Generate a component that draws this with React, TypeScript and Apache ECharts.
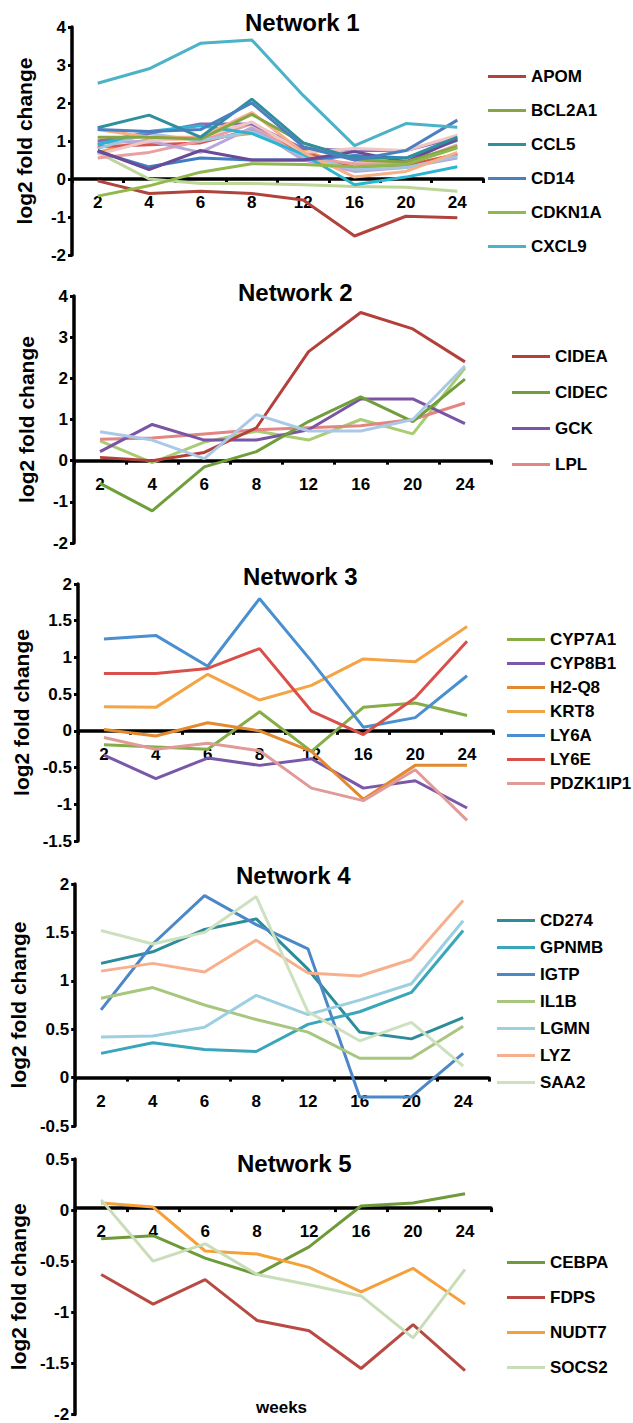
import React, { useEffect, useRef } from "react";
import * as echarts from "echarts";

const weeks = ["2", "4", "6", "8", "12", "16", "20", "24"];

// Network 1 (legend shows six genes; further lines are drawn but not listed)
const n1Legend = ["APOM", "BCL2A1", "CCL5", "CD14", "CDKN1A", "CXCL9"];
const APOM = [-0.05, -0.38, -0.32, -0.38, -0.55, -1.5, -0.98, -1.02];
const BCL2A1 = [1.1, 1.1, 1.05, 1.7, 0.95, 0.5, 0.45, 0.85];
const CCL5 = [1.35, 1.68, 1.1, 2.1, 0.95, 0.55, 0.55, 1.1];
const CD14 = [1.3, 1.25, 1.3, 2.0, 0.85, 0.5, 0.75, 1.55];
const CDKN1A = [-0.45, -0.18, 0.18, 0.4, 0.38, 0.32, 0.38, 0.82];
const CXCL9 = [2.52, 2.9, 3.57, 3.66, 2.2, 0.88, 1.46, 1.36];
const n1Extra1 = [0.7, 0.0, -0.12, -0.12, -0.15, -0.2, -0.22, -0.32];
const n1Extra2 = [0.75, 0.25, 0.75, 0.5, 0.5, 0.72, 0.45, 1.05];
const n1Extra3 = [0.72, 0.32, 0.55, 0.5, 0.5, 0.62, 0.55, 1.02];
const n1Extra4 = [0.7, 1.05, 1.05, 1.2, 0.75, 0.3, 0.35, 0.65];
const n1Extra5 = [1.3, 1.1, 1.1, 1.75, 0.7, 0.05, 0.2, 0.7];
const n1Extra6 = [0.85, 0.9, 0.95, 1.3, 0.7, 0.3, 0.35, 0.65];
const n1Extra7 = [0.55, 0.7, 1.0, 1.45, 0.55, 0.4, 0.4, 0.9];
const n1Extra8 = [0.95, 1.0, 0.7, 1.35, 0.5, 0.2, 0.3, 0.55];
const n1Extra9 = [0.8, 1.2, 1.0, 1.25, 0.6, 0.25, 0.3, 0.6];
const n1Extra10 = [1.0, 1.2, 1.45, 1.45, 0.8, 0.75, 0.75, 1.1];
const n1Extra11 = [0.65, 1.0, 1.1, 1.5, 0.7, 0.8, 0.75, 1.15];
const n1Extra12 = [0.9, 1.25, 1.4, 1.2, 0.65, -0.15, 0.05, 0.32];

// Network 2
const n2Legend = ["CIDEA", "CIDEC", "GCK", "LPL"];
const CIDEA = [0.08, 0.0, 0.2, 0.8, 2.65, 3.6, 3.2, 2.4];
const CIDEC = [-0.55, -1.22, -0.15, 0.22, 0.95, 1.55, 0.95, 1.98];
const GCK = [0.22, 0.88, 0.5, 0.5, 0.75, 1.5, 1.5, 0.9];
const LPL = [0.52, 0.55, 0.65, 0.75, 0.8, 0.85, 1.0, 1.4];
const n2Extra1 = [0.48, -0.05, 0.45, 0.72, 0.5, 1.0, 0.65, 2.25];
const n2Extra2 = [0.7, 0.5, 0.05, 1.12, 0.72, 0.72, 1.0, 2.3];

// Network 3
const n3Legend = ["CYP7A1", "CYP8B1", "H2-Q8", "KRT8", "LY6A", "LY6E", "PDZK1IP1"];
const CYP7A1 = [-0.19, -0.22, -0.25, 0.26, -0.28, 0.32, 0.38, 0.21];
const CYP8B1 = [-0.33, -0.65, -0.37, -0.47, -0.38, -0.78, -0.68, -1.05];
const H2Q8 = [0.02, -0.07, 0.11, 0.0, -0.28, -0.93, -0.47, -0.47];
const KRT8 = [0.33, 0.32, 0.77, 0.42, 0.62, 0.98, 0.94, 1.42];
const LY6A = [1.25, 1.3, 0.88, 1.8, 0.95, 0.05, 0.18, 0.75];
const LY6E = [0.78, 0.78, 0.85, 1.12, 0.27, -0.05, 0.45, 1.22];
const PDZK1IP1 = [-0.09, -0.25, -0.17, -0.27, -0.78, -0.95, -0.53, -1.22];

// Network 4
const n4Legend = ["CD274", "GPNMB", "IGTP", "IL1B", "LGMN", "LYZ", "SAA2"];
const CD274 = [1.18, 1.3, 1.53, 1.64, 1.12, 0.47, 0.4, 0.62];
const GPNMB = [0.25, 0.36, 0.29, 0.27, 0.55, 0.68, 0.88, 1.52];
const IGTP = [0.7, 1.38, 1.88, 1.58, 1.33, -0.2, -0.2, 0.25];
const IL1B = [0.82, 0.93, 0.75, 0.6, 0.47, 0.2, 0.2, 0.53];
const LGMN = [0.42, 0.43, 0.52, 0.85, 0.65, 0.8, 0.97, 1.62];
const LYZ = [1.1, 1.18, 1.09, 1.42, 1.08, 1.05, 1.22, 1.83];
const SAA2 = [1.52, 1.38, 1.5, 1.87, 0.68, 0.38, 0.57, 0.12];

// Network 5
const n5Legend = ["CEBPA", "FDPS", "NUDT7", "SOCS2"];
const CEBPA = [-0.28, -0.25, -0.47, -0.63, -0.36, 0.04, 0.07, 0.16];
const FDPS = [-0.63, -0.92, -0.68, -1.08, -1.18, -1.55, -1.12, -1.57];
const NUDT7 = [0.07, 0.03, -0.4, -0.43, -0.56, -0.8, -0.57, -0.92];
const SOCS2 = [0.1, -0.5, -0.33, -0.63, -0.73, -0.84, -1.25, -0.58];

type S = { name: string; data: number[]; color: string };

const panelSeries: S[][] = [
  [
    { name: "n1-x1", data: n1Extra1, color: "#bdd79b" },
    { name: "n1-x4", data: n1Extra4, color: "#f0a04a" },
    { name: "n1-x6", data: n1Extra6, color: "#d9534f" },
    { name: "n1-x7", data: n1Extra7, color: "#e8a0a0" },
    { name: "n1-x8", data: n1Extra8, color: "#b8a8d8" },
    { name: "n1-x9", data: n1Extra9, color: "#a2c6e2" },
    { name: "n1-x10", data: n1Extra10, color: "#8a6bb8" },
    { name: "n1-x11", data: n1Extra11, color: "#f0c6c4" },
    { name: "n1-x12", data: n1Extra12, color: "#2bb5d1" },
    { name: "n1-x5", data: n1Extra5, color: "#f6b088" },
    { name: "n1-x3", data: n1Extra3, color: "#3f7ec5" },
    { name: "n1-x2", data: n1Extra2, color: "#6a4b98" },
    { name: "APOM", data: APOM, color: "#b0443c" },
    { name: "BCL2A1", data: BCL2A1, color: "#86a544" },
    { name: "CCL5", data: CCL5, color: "#2f8f9d" },
    { name: "CD14", data: CD14, color: "#4b7fc0" },
    { name: "CDKN1A", data: CDKN1A, color: "#90b84c" },
    { name: "CXCL9", data: CXCL9, color: "#4bb2c8" },
  ],
  [
    { name: "n2-x1", data: n2Extra1, color: "#a8cb73" },
    { name: "LPL", data: LPL, color: "#e38582" },
    { name: "GCK", data: GCK, color: "#7a55a6" },
    { name: "CIDEC", data: CIDEC, color: "#6f9e3a" },
    { name: "CIDEA", data: CIDEA, color: "#b3403a" },
    { name: "n2-x2", data: n2Extra2, color: "#abc9e6" },
  ],
  [
    { name: "CYP7A1", data: CYP7A1, color: "#86ad48" },
    { name: "CYP8B1", data: CYP8B1, color: "#7a58a8" },
    { name: "H2-Q8", data: H2Q8, color: "#e38a30" },
    { name: "KRT8", data: KRT8, color: "#f3a444" },
    { name: "LY6A", data: LY6A, color: "#4a8fd0" },
    { name: "LY6E", data: LY6E, color: "#d9504a" },
    { name: "PDZK1IP1", data: PDZK1IP1, color: "#e09a98" },
  ],
  [
    { name: "CD274", data: CD274, color: "#2c8c9a" },
    { name: "GPNMB", data: GPNMB, color: "#3aa6b9" },
    { name: "IGTP", data: IGTP, color: "#4c87c8" },
    { name: "IL1B", data: IL1B, color: "#a8c67e" },
    { name: "LGMN", data: LGMN, color: "#9ccfe0" },
    { name: "LYZ", data: LYZ, color: "#f7b08e" },
    { name: "SAA2", data: SAA2, color: "#cde0c0" },
  ],
  [
    { name: "CEBPA", data: CEBPA, color: "#6f9a3a" },
    { name: "FDPS", data: FDPS, color: "#b84a44" },
    { name: "NUDT7", data: NUDT7, color: "#f5a03a" },
    { name: "SOCS2", data: SOCS2, color: "#c8ddb8" },
  ],
];

const legends = [n1Legend, n2Legend, n3Legend, n4Legend, n5Legend];
const titles = ["Network 1", "Network 2", "Network 3", "Network 4", "Network 5"];
const yMin = [-2, -2, -1.5, -0.5, -2];
const yMax = [4, 4, 2, 2, 0.5];
const yInterval = [1, 1, 0.5, 0.5, 0.5];

const layout = [
  { grid: { left: 72, top: 27, width: 411, height: 228 }, title: { left: 245, top: 10 }, legend: { left: 488, top: 68, itemGap: 17 } },
  { grid: { left: 74, top: 296, width: 417, height: 247 }, title: { left: 238, top: 280 }, legend: { left: 512, top: 348, itemGap: 19 } },
  { grid: { left: 78, top: 584, width: 415, height: 257 }, title: { left: 243, top: 564 }, legend: { left: 507, top: 631, itemGap: 7 } },
  { grid: { left: 71, top: 884, width: 418, height: 242 }, title: { left: 236, top: 863 }, legend: { left: 497, top: 912, itemGap: 10 } },
  { grid: { left: 74, top: 1159, width: 417, height: 258 }, title: { left: 237, top: 1151 }, legend: { left: 507, top: 1254, itemGap: 18 } },
];

const FONT = "'Liberation Sans', Arial, sans-serif";

export default function App() {
  const ref = useRef<HTMLDivElement>(null);
  useEffect(() => {
    if (!ref.current) return;
    const chart = echarts.init(ref.current, undefined, { renderer: "svg" });
    const bold = { fontWeight: "bold" as const, color: "#000", fontFamily: FONT };
    const option: any = {
      animation: false,
      backgroundColor: "#fff",
      textStyle: { fontFamily: FONT },
      title: [
        ...titles.map((t, i) => ({
          text: t,
          left: layout[i].title.left,
          top: layout[i].title.top,
          padding: 0,
          textStyle: { ...bold, fontSize: 24 },
        })),
        { text: "weeks", left: 256, top: 1399, padding: 0, textStyle: { ...bold, fontSize: 17 } },
      ],
      grid: layout.map((l) => ({ ...l.grid, containLabel: false })),
      legend: legends.map((names, i) => ({
        data: names,
        orient: "vertical",
        left: layout[i].legend.left,
        top: layout[i].legend.top,
        itemGap: layout[i].legend.itemGap,
        itemWidth: 38,
        itemHeight: 3,
        icon: "rect",
        padding: 0,
        selectedMode: false,
        textStyle: { ...bold, fontSize: 17 },
      })),
      xAxis: layout.map((l, i) => ({
        type: "category",
        gridIndex: i,
        position: "bottom",
        // place the axis on the zero line of the value axis
        offset: -(l.grid.height * (0 - yMin[i])) / (yMax[i] - yMin[i]),
        data: weeks,
        boundaryGap: true,
        axisLine: { show: true, onZero: false, lineStyle: { color: "#000", width: 3.5 } },
        axisTick: { show: true, length: 4, lineStyle: { color: "#000", width: 3 } },
        axisLabel: { margin: 15, fontSize: 17, ...bold },
        splitLine: { show: false },
        z: 1,
      })),
      yAxis: layout.map((_, i) => ({
        type: "value",
        gridIndex: i,
        min: yMin[i],
        max: yMax[i],
        interval: yInterval[i],
        name: "log2 fold change",
        nameLocation: "middle",
        nameGap: 37,
        nameRotate: 90,
        nameTextStyle: { ...bold, fontSize: 21 },
        axisLine: { show: true, lineStyle: { color: "#000", width: 3.5 } },
        axisTick: { show: true, length: 4, lineStyle: { color: "#000", width: 3 } },
        axisLabel: { margin: 6, fontSize: 17, ...bold },
        splitLine: { show: false },
      })),
      series: panelSeries.flatMap((list, i) =>
        list.map((s) => ({
          type: "line",
          name: s.name,
          data: s.data,
          xAxisIndex: i,
          yAxisIndex: i,
          symbol: "none",
          color: s.color,
          lineStyle: { width: 3, color: s.color },
          itemStyle: { color: s.color },
          z: 3,
        }))
      ),
    };
    chart.setOption(option);
    return () => chart.dispose();
  }, []);
  return (
    <div
      ref={ref}
      style={{ position: "absolute", left: 0, top: 0, width: 633, height: 1423, background: "#fff" }}
    />
  );
}
